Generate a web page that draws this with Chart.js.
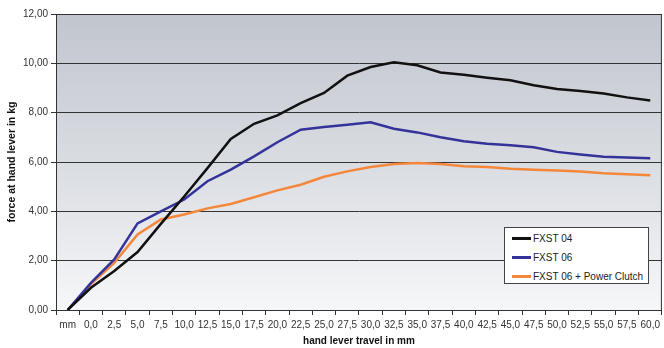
<!DOCTYPE html>
<html>
<head>
<meta charset="utf-8">
<script src="https://cdn.jsdelivr.net/npm/chart.js@4"></script>
<style>
  body { margin: 0; background: #fff; font-family: "Liberation Sans", Arial, sans-serif; }
  #wrap { position: relative; width: 664px; height: 348px; }
  #legend {
    position: absolute; left: 504px; top: 227px; width: 143px; height: 55px;
    border: 1px solid #444; background: #fff; font-size: 10px; color: #222;
  }
  #legend .row { display: flex; align-items: center; height: 19px; padding-left: 7px; }
  #legend .row:first-child { margin-top: 1px; }
  #legend .swatch { width: 19px; height: 3px; margin-right: 2px; }
</style>
</head>
<body>
<div id="wrap">
  <canvas id="chart"></canvas>
  <div id="legend"></div>
</div>
<script>
// x categories (the first one is the unit label)
const travel = ["mm", "0,0", "2,5", "5,0", "7,5", "10,0", "12,5", "15,0", "17,5", "20,0",
  "22,5", "25,0", "27,5", "30,0", "32,5", "35,0", "37,5", "40,0", "42,5", "45,0",
  "47,5", "50,0", "52,5", "55,0", "57,5", "60,0"]

// force readings, kg
const fxst04 = [0, 0.90, 1.58, 2.35, 3.49, 4.60, 5.75, 6.93, 7.55, 7.89, 8.39, 8.80, 9.50,
  9.85, 10.04, 9.92, 9.63, 9.54, 9.42, 9.31, 9.11, 8.96, 8.88, 8.78, 8.62, 8.49]
const fxst06 = [0, 1.10, 2.05, 3.51, 4.00, 4.48, 5.22, 5.69, 6.23, 6.80, 7.31, 7.42, 7.51,
  7.61, 7.35, 7.20, 7.00, 6.84, 6.74, 6.68, 6.60, 6.41, 6.30, 6.21, 6.18, 6.15]
const fxst06pc = [0, 1.05, 1.91, 3.06, 3.67, 3.87, 4.12, 4.30, 4.57, 4.85, 5.08, 5.40, 5.62,
  5.80, 5.92, 5.96, 5.92, 5.83, 5.80, 5.73, 5.69, 5.66, 5.61, 5.54, 5.50, 5.46]

const yTicks = [0, 2, 4, 6, 8, 10, 12]

const seriesNames = ["FXST 04", "FXST 06", "FXST 06 + Power Clutch"]
const seriesColors = ["#111111", "#333399", "#f5873a"]

// grey gradient behind the plot + frame
const plotBackground = {
  id: "plotBackground",
  beforeDraw(chart) {
    const {ctx, chartArea: a} = chart
    const g = ctx.createLinearGradient(0, a.top, 0, a.bottom)
    g.addColorStop(0, "#c1c5ce")
    g.addColorStop(0.5, "#d9dce1")
    g.addColorStop(1, "#f6f7f9")
    ctx.save()
    ctx.fillStyle = g
    ctx.fillRect(a.left, a.top, a.right - a.left, a.bottom - a.top)
    ctx.restore()
  },
  beforeDatasetsDraw(chart) {
    const {ctx, chartArea: a} = chart
    ctx.save()
    ctx.strokeStyle = "#333"
    ctx.lineWidth = 1
    ctx.strokeRect(a.left + 0.5, a.top + 0.5, a.right - a.left - 1, a.bottom - a.top)
    ctx.restore()
  }
}

const datasets = [fxst04, fxst06, fxst06pc].map((values, i) => ({
  label: seriesNames[i],
  data: values,
  borderColor: seriesColors[i],
  backgroundColor: seriesColors[i],
  borderWidth: 2.5,
  pointRadius: 0,
  tension: 0
}))

const chart = new Chart(document.getElementById("chart"), {
  type: "line",
  data: { labels: travel, datasets },
  options: {
    responsive: true,
    maintainAspectRatio: false,
    animation: false,
    layout: { padding: { top: 14, right: 1, left: 0, bottom: 0 } },
    plugins: { legend: { display: false }, tooltip: { enabled: false } },
    scales: {
      x: {
        offset: true,
        grid: { offset: true, drawOnChartArea: false, tickLength: 5, color: "#333" },
        border: { color: "#333" },
        ticks: {
          autoSkip: false, maxRotation: 0, minRotation: 0, padding: 4,
          color: "#333", font: { family: "Liberation Sans", size: 10 }
        },
        title: {
          display: true, text: "hand lever travel in mm", color: "#111",
          font: { family: "Liberation Sans", size: 10, weight: "bold" },
          padding: { top: 2, bottom: 1 }
        },
        afterFit(scale) { scale.height = 38 }
      },
      y: {
        min: yTicks[0],
        max: yTicks[yTicks.length - 1],
        afterBuildTicks(scale) { scale.ticks = yTicks.map(v => ({ value: v })) },
        grid: { color: "#333", lineWidth: 1, tickLength: 5 },
        border: { color: "#333" },
        ticks: {
          padding: 3, color: "#333", font: { family: "Liberation Sans", size: 10 },
          callback: v => v.toFixed(2).replace(".", ",")
        },
        title: {
          display: true, text: "force at hand lever in kg", color: "#111",
          font: { family: "Liberation Sans", size: 10.5, weight: "bold" },
          padding: { top: 6, bottom: 4 }
        },
        afterFit(scale) { scale.width = 56 }
      }
    }
  },
  plugins: [plotBackground]
})

// legend box inside the plot, bottom right
const legend = document.getElementById("legend")
chart.data.datasets.forEach(ds => {
  const row = document.createElement("div")
  row.className = "row"
  row.innerHTML = `<span class="swatch" style="background:${ds.borderColor}"></span><span>${ds.label}</span>`
  legend.appendChild(row)
})
</script>
</body>
</html>
